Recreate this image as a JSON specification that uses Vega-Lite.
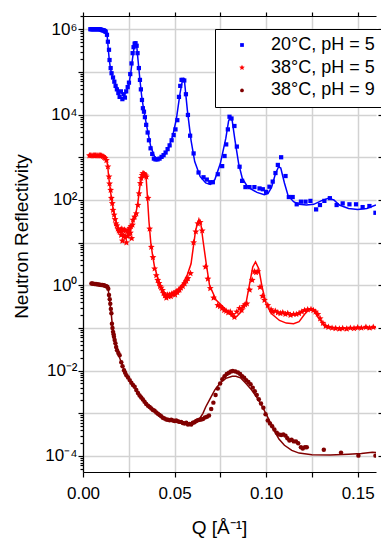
{
"$schema":"https://vega.github.io/schema/vega-lite/v6.json",
"autosize":{"type":"none"},
"width":293,"height":456,
"padding":{"left":83,"top":16,"right":5,"bottom":66},
"background":"white",
"config":{"view":{"stroke":null},"axis":{"labelFont":"Liberation Sans","titleFont":"Liberation Sans","domainColor":"black","tickColor":"black","labelColor":"black","titleColor":"black","gridColor":"#d2d2d2","gridWidth":1.5,"domainWidth":1.2,"tickWidth":1.2,"titleFontWeight":"normal"}},
"datasets":{
"pts":[
{"series":"20°C, pH = 5","q":0.0040,"r":1.0e6},{"series":"20°C, pH = 5","q":0.0046,"r":1.0e6},{"series":"20°C, pH = 5","q":0.0051,"r":1.0e6},{"series":"20°C, pH = 5","q":0.0057,"r":1.0e6},{"series":"20°C, pH = 5","q":0.0062,"r":1.0e6},{"series":"20°C, pH = 5","q":0.0068,"r":1.0e6},{"series":"20°C, pH = 5","q":0.0073,"r":1.0e6},{"series":"20°C, pH = 5","q":0.0079,"r":1.0e6},{"series":"20°C, pH = 5","q":0.0084,"r":1.0e6},{"series":"20°C, pH = 5","q":0.0090,"r":1.0e6},{"series":"20°C, pH = 5","q":0.0095,"r":9.9e5},{"series":"20°C, pH = 5","q":0.0100,"r":9.7e5},{"series":"20°C, pH = 5","q":0.0105,"r":9.5e5},{"series":"20°C, pH = 5","q":0.0110,"r":9.4e5},{"series":"20°C, pH = 5","q":0.0115,"r":9.3e5},{"series":"20°C, pH = 5","q":0.0120,"r":9.0e5},{"series":"20°C, pH = 5","q":0.0124,"r":8.7e5},{"series":"20°C, pH = 5","q":0.0131,"r":7.4e5},{"series":"20°C, pH = 5","q":0.0136,"r":5.1e5},{"series":"20°C, pH = 5","q":0.0142,"r":3.3e5},{"series":"20°C, pH = 5","q":0.0145,"r":1.9e5},{"series":"20°C, pH = 5","q":0.0151,"r":1.23e5},{"series":"20°C, pH = 5","q":0.0156,"r":9.3e4},{"series":"20°C, pH = 5","q":0.0164,"r":7.4e4},{"series":"20°C, pH = 5","q":0.0171,"r":5.9e4},{"series":"20°C, pH = 5","q":0.0178,"r":4.7e4},{"series":"20°C, pH = 5","q":0.0185,"r":3.9e4},{"series":"20°C, pH = 5","q":0.0193,"r":3.2e4},{"series":"20°C, pH = 5","q":0.0200,"r":2.6e4},{"series":"20°C, pH = 5","q":0.0207,"r":3.5e4},{"series":"20°C, pH = 5","q":0.0215,"r":2.3e4},{"series":"20°C, pH = 5","q":0.0222,"r":3.0e4},{"series":"20°C, pH = 5","q":0.0229,"r":2.5e4},{"series":"20°C, pH = 5","q":0.0236,"r":3.5e4},{"series":"20°C, pH = 5","q":0.0244,"r":4.4e4},{"series":"20°C, pH = 5","q":0.0251,"r":5.6e4},{"series":"20°C, pH = 5","q":0.0258,"r":8.9e4},{"series":"20°C, pH = 5","q":0.0265,"r":1.58e5},{"series":"20°C, pH = 5","q":0.0271,"r":2.75e5},{"series":"20°C, pH = 5","q":0.0276,"r":3.8e5},{"series":"20°C, pH = 5","q":0.0282,"r":4.6e5},{"series":"20°C, pH = 5","q":0.0287,"r":4.7e5},{"series":"20°C, pH = 5","q":0.0293,"r":4.1e5},{"series":"20°C, pH = 5","q":0.0298,"r":2.75e5},{"series":"20°C, pH = 5","q":0.0305,"r":1.23e5},{"series":"20°C, pH = 5","q":0.0311,"r":6.5e4},{"series":"20°C, pH = 5","q":0.0316,"r":3.9e4},{"series":"20°C, pH = 5","q":0.0322,"r":2.2e4},{"series":"20°C, pH = 5","q":0.0327,"r":1.41e4},{"series":"20°C, pH = 5","q":0.0333,"r":1.17e4},{"series":"20°C, pH = 5","q":0.0338,"r":8.7e3},{"series":"20°C, pH = 5","q":0.0345,"r":5.75e3},{"series":"20°C, pH = 5","q":0.0353,"r":3.8e3},{"series":"20°C, pH = 5","q":0.0360,"r":2.5e3},{"series":"20°C, pH = 5","q":0.0369,"r":1.62e3},{"series":"20°C, pH = 5","q":0.0378,"r":1.2e3},{"series":"20°C, pH = 5","q":0.0387,"r":930},{"series":"20°C, pH = 5","q":0.0396,"r":890},{"series":"20°C, pH = 5","q":0.0407,"r":890},{"series":"20°C, pH = 5","q":0.0418,"r":930},{"series":"20°C, pH = 5","q":0.0429,"r":1020},{"series":"20°C, pH = 5","q":0.0440,"r":1120},{"series":"20°C, pH = 5","q":0.0451,"r":1290},{"series":"20°C, pH = 5","q":0.0462,"r":1550},{"series":"20°C, pH = 5","q":0.0473,"r":1900},{"series":"20°C, pH = 5","q":0.0484,"r":2500},{"series":"20°C, pH = 5","q":0.0495,"r":3300},{"series":"20°C, pH = 5","q":0.0505,"r":4500},{"series":"20°C, pH = 5","q":0.0515,"r":7400},{"series":"20°C, pH = 5","q":0.0524,"r":2.6e4},{"series":"20°C, pH = 5","q":0.0531,"r":4.7e4},{"series":"20°C, pH = 5","q":0.0538,"r":6.5e4},{"series":"20°C, pH = 5","q":0.0545,"r":6.5e4},{"series":"20°C, pH = 5","q":0.0553,"r":6.3e4},{"series":"20°C, pH = 5","q":0.0562,"r":3.0e4},{"series":"20°C, pH = 5","q":0.0573,"r":9800},{"series":"20°C, pH = 5","q":0.0585,"r":3200},{"series":"20°C, pH = 5","q":0.0604,"r":1230},{"series":"20°C, pH = 5","q":0.0631,"r":440},{"series":"20°C, pH = 5","q":0.0658,"r":340},{"series":"20°C, pH = 5","q":0.0676,"r":300},{"series":"20°C, pH = 5","q":0.0695,"r":260},{"series":"20°C, pH = 5","q":0.0709,"r":260},{"series":"20°C, pH = 5","q":0.0736,"r":400},{"series":"20°C, pH = 5","q":0.0760,"r":620},{"series":"20°C, pH = 5","q":0.0773,"r":1070},{"series":"20°C, pH = 5","q":0.0782,"r":2000},{"series":"20°C, pH = 5","q":0.0791,"r":4500},{"series":"20°C, pH = 5","q":0.0800,"r":8900},{"series":"20°C, pH = 5","q":0.0811,"r":8100},{"series":"20°C, pH = 5","q":0.0827,"r":5400},{"series":"20°C, pH = 5","q":0.0840,"r":1780},{"series":"20°C, pH = 5","q":0.0855,"r":600},{"series":"20°C, pH = 5","q":0.0869,"r":280},{"series":"20°C, pH = 5","q":0.0887,"r":200},{"series":"20°C, pH = 5","q":0.0909,"r":200},{"series":"20°C, pH = 5","q":0.0936,"r":200},{"series":"20°C, pH = 5","q":0.0964,"r":186},{"series":"20°C, pH = 5","q":0.0982,"r":178},{"series":"20°C, pH = 5","q":0.1000,"r":155},{"series":"20°C, pH = 5","q":0.1018,"r":204},{"series":"20°C, pH = 5","q":0.1036,"r":269},{"series":"20°C, pH = 5","q":0.1051,"r":427},{"series":"20°C, pH = 5","q":0.1064,"r":661},{"series":"20°C, pH = 5","q":0.1082,"r":1000},{"series":"20°C, pH = 5","q":0.1106,"r":363},{"series":"20°C, pH = 5","q":0.1124,"r":117},{"series":"20°C, pH = 5","q":0.1145,"r":117},{"series":"20°C, pH = 5","q":0.1167,"r":79},{"series":"20°C, pH = 5","q":0.1190,"r":91},{"series":"20°C, pH = 5","q":0.1215,"r":91},{"series":"20°C, pH = 5","q":0.1242,"r":95},{"series":"20°C, pH = 5","q":0.1273,"r":60},{"series":"20°C, pH = 5","q":0.1294,"r":76},{"series":"20°C, pH = 5","q":0.1318,"r":95},{"series":"20°C, pH = 5","q":0.1348,"r":110},{"series":"20°C, pH = 5","q":0.1385,"r":76},{"series":"20°C, pH = 5","q":0.1418,"r":83},{"series":"20°C, pH = 5","q":0.1455,"r":79},{"series":"20°C, pH = 5","q":0.1491,"r":79},{"series":"20°C, pH = 5","q":0.1527,"r":68},{"series":"20°C, pH = 5","q":0.1564,"r":72},{"series":"20°C, pH = 5","q":0.1597,"r":50},
{"series":"38°C, pH = 5","q":0.0035,"r":1100},{"series":"38°C, pH = 5","q":0.0042,"r":1100},{"series":"38°C, pH = 5","q":0.0049,"r":1100},{"series":"38°C, pH = 5","q":0.0056,"r":1100},{"series":"38°C, pH = 5","q":0.0062,"r":1100},{"series":"38°C, pH = 5","q":0.0069,"r":1100},{"series":"38°C, pH = 5","q":0.0076,"r":1100},{"series":"38°C, pH = 5","q":0.0082,"r":1100},{"series":"38°C, pH = 5","q":0.0089,"r":1100},{"series":"38°C, pH = 5","q":0.0096,"r":1100},{"series":"38°C, pH = 5","q":0.0102,"r":1080},{"series":"38°C, pH = 5","q":0.0109,"r":1050},{"series":"38°C, pH = 5","q":0.0115,"r":1000},{"series":"38°C, pH = 5","q":0.0121,"r":950},{"series":"38°C, pH = 5","q":0.0128,"r":850},{"series":"38°C, pH = 5","q":0.0136,"r":600},{"series":"38°C, pH = 5","q":0.0142,"r":350},{"series":"38°C, pH = 5","q":0.0145,"r":240},{"series":"38°C, pH = 5","q":0.0151,"r":170},{"series":"38°C, pH = 5","q":0.0155,"r":110},{"series":"38°C, pH = 5","q":0.0160,"r":83},{"series":"38°C, pH = 5","q":0.0164,"r":58},{"series":"38°C, pH = 5","q":0.0170,"r":45},{"series":"38°C, pH = 5","q":0.0175,"r":35},{"series":"38°C, pH = 5","q":0.0180,"r":28},{"series":"38°C, pH = 5","q":0.0185,"r":25},{"series":"38°C, pH = 5","q":0.0190,"r":21},{"series":"38°C, pH = 5","q":0.0195,"r":19},{"series":"38°C, pH = 5","q":0.0200,"r":18},{"series":"38°C, pH = 5","q":0.0204,"r":20},{"series":"38°C, pH = 5","q":0.0208,"r":15},{"series":"38°C, pH = 5","q":0.0212,"r":21},{"series":"38°C, pH = 5","q":0.0215,"r":11},{"series":"38°C, pH = 5","q":0.0219,"r":19},{"series":"38°C, pH = 5","q":0.0222,"r":14},{"series":"38°C, pH = 5","q":0.0226,"r":20},{"series":"38°C, pH = 5","q":0.0230,"r":13},{"series":"38°C, pH = 5","q":0.0233,"r":19},{"series":"38°C, pH = 5","q":0.0237,"r":10},{"series":"38°C, pH = 5","q":0.0241,"r":18},{"series":"38°C, pH = 5","q":0.0244,"r":14},{"series":"38°C, pH = 5","q":0.0248,"r":20},{"series":"38°C, pH = 5","q":0.0252,"r":16},{"series":"38°C, pH = 5","q":0.0255,"r":22},{"series":"38°C, pH = 5","q":0.0259,"r":17},{"series":"38°C, pH = 5","q":0.0262,"r":24},{"series":"38°C, pH = 5","q":0.0266,"r":12.6},{"series":"38°C, pH = 5","q":0.0270,"r":26},{"series":"38°C, pH = 5","q":0.0273,"r":34},{"series":"38°C, pH = 5","q":0.0282,"r":40},{"series":"38°C, pH = 5","q":0.0291,"r":48},{"series":"38°C, pH = 5","q":0.0300,"r":76},{"series":"38°C, pH = 5","q":0.0306,"r":141},{"series":"38°C, pH = 5","q":0.0313,"r":245},{"series":"38°C, pH = 5","q":0.0318,"r":324},{"series":"38°C, pH = 5","q":0.0323,"r":380},{"series":"38°C, pH = 5","q":0.0327,"r":417},{"series":"38°C, pH = 5","q":0.0332,"r":417},{"series":"38°C, pH = 5","q":0.0336,"r":398},{"series":"38°C, pH = 5","q":0.0341,"r":372},{"series":"38°C, pH = 5","q":0.0346,"r":347},{"series":"38°C, pH = 5","q":0.0355,"r":110},{"series":"38°C, pH = 5","q":0.0364,"r":21},{"series":"38°C, pH = 5","q":0.0373,"r":7.9},{"series":"38°C, pH = 5","q":0.0382,"r":4.5},{"series":"38°C, pH = 5","q":0.0391,"r":2.45},{"series":"38°C, pH = 5","q":0.0400,"r":1.7},{"series":"38°C, pH = 5","q":0.0408,"r":1.32},{"series":"38°C, pH = 5","q":0.0415,"r":1.12},{"series":"38°C, pH = 5","q":0.0421,"r":0.95},{"series":"38°C, pH = 5","q":0.0427,"r":0.87},{"series":"38°C, pH = 5","q":0.0434,"r":0.76},{"series":"38°C, pH = 5","q":0.0440,"r":0.65},{"series":"38°C, pH = 5","q":0.0447,"r":0.575},{"series":"38°C, pH = 5","q":0.0455,"r":0.51},{"series":"38°C, pH = 5","q":0.0462,"r":0.60},{"series":"38°C, pH = 5","q":0.0467,"r":0.54},{"series":"38°C, pH = 5","q":0.0473,"r":0.60},{"series":"38°C, pH = 5","q":0.0480,"r":0.55},{"series":"38°C, pH = 5","q":0.0485,"r":0.63},{"series":"38°C, pH = 5","q":0.0491,"r":0.62},{"series":"38°C, pH = 5","q":0.0497,"r":0.66},{"series":"38°C, pH = 5","q":0.0503,"r":0.60},{"series":"38°C, pH = 5","q":0.0509,"r":0.71},{"series":"38°C, pH = 5","q":0.0515,"r":0.68},{"series":"38°C, pH = 5","q":0.0521,"r":0.76},{"series":"38°C, pH = 5","q":0.0527,"r":0.78},{"series":"38°C, pH = 5","q":0.0535,"r":0.87},{"series":"38°C, pH = 5","q":0.0545,"r":0.95},{"series":"38°C, pH = 5","q":0.0555,"r":1.1},{"series":"38°C, pH = 5","q":0.0564,"r":1.26},{"series":"38°C, pH = 5","q":0.0573,"r":1.45},{"series":"38°C, pH = 5","q":0.0587,"r":1.9},{"series":"38°C, pH = 5","q":0.0604,"r":10},{"series":"38°C, pH = 5","q":0.0616,"r":18},{"series":"38°C, pH = 5","q":0.0627,"r":28},{"series":"38°C, pH = 5","q":0.0640,"r":30},{"series":"38°C, pH = 5","q":0.0651,"r":19},{"series":"38°C, pH = 5","q":0.0669,"r":2.7},{"series":"38°C, pH = 5","q":0.0682,"r":1.41},{"series":"38°C, pH = 5","q":0.0695,"r":0.85},{"series":"38°C, pH = 5","q":0.0713,"r":0.51},{"series":"38°C, pH = 5","q":0.0736,"r":0.34},{"series":"38°C, pH = 5","q":0.0748,"r":0.32},{"series":"38°C, pH = 5","q":0.0760,"r":0.29},{"series":"38°C, pH = 5","q":0.0771,"r":0.26},{"series":"38°C, pH = 5","q":0.0782,"r":0.25},{"series":"38°C, pH = 5","q":0.0793,"r":0.23},{"series":"38°C, pH = 5","q":0.0804,"r":0.24},{"series":"38°C, pH = 5","q":0.0815,"r":0.21},{"series":"38°C, pH = 5","q":0.0827,"r":0.18},{"series":"38°C, pH = 5","q":0.0840,"r":0.24},{"series":"38°C, pH = 5","q":0.0855,"r":0.29},{"series":"38°C, pH = 5","q":0.0866,"r":0.26},{"series":"38°C, pH = 5","q":0.0876,"r":0.32},{"series":"38°C, pH = 5","q":0.0885,"r":0.355},{"series":"38°C, pH = 5","q":0.0895,"r":0.37},{"series":"38°C, pH = 5","q":0.0910,"r":0.78},{"series":"38°C, pH = 5","q":0.0924,"r":1.32},{"series":"38°C, pH = 5","q":0.0936,"r":2.1},{"series":"38°C, pH = 5","q":0.0945,"r":2.0},{"series":"38°C, pH = 5","q":0.0955,"r":2.1},{"series":"38°C, pH = 5","q":0.0967,"r":0.91},{"series":"38°C, pH = 5","q":0.0980,"r":0.56},{"series":"38°C, pH = 5","q":0.0991,"r":0.45},{"series":"38°C, pH = 5","q":0.1009,"r":0.34},{"series":"38°C, pH = 5","q":0.1027,"r":0.27},{"series":"38°C, pH = 5","q":0.1036,"r":0.24},{"series":"38°C, pH = 5","q":0.1050,"r":0.25},{"series":"38°C, pH = 5","q":0.1064,"r":0.23},{"series":"38°C, pH = 5","q":0.1078,"r":0.22},{"series":"38°C, pH = 5","q":0.1091,"r":0.23},{"series":"38°C, pH = 5","q":0.1105,"r":0.21},{"series":"38°C, pH = 5","q":0.1118,"r":0.22},{"series":"38°C, pH = 5","q":0.1133,"r":0.20},{"series":"38°C, pH = 5","q":0.1150,"r":0.21},{"series":"38°C, pH = 5","q":0.1165,"r":0.21},{"series":"38°C, pH = 5","q":0.1180,"r":0.22},{"series":"38°C, pH = 5","q":0.1195,"r":0.24},{"series":"38°C, pH = 5","q":0.1210,"r":0.26},{"series":"38°C, pH = 5","q":0.1227,"r":0.27},{"series":"38°C, pH = 5","q":0.1245,"r":0.275},{"series":"38°C, pH = 5","q":0.1258,"r":0.26},{"series":"38°C, pH = 5","q":0.1270,"r":0.24},{"series":"38°C, pH = 5","q":0.1282,"r":0.21},{"series":"38°C, pH = 5","q":0.1295,"r":0.166},{"series":"38°C, pH = 5","q":0.1310,"r":0.13},{"series":"38°C, pH = 5","q":0.1325,"r":0.11},{"series":"38°C, pH = 5","q":0.1340,"r":0.105},{"series":"38°C, pH = 5","q":0.1360,"r":0.10},{"series":"38°C, pH = 5","q":0.1380,"r":0.098},{"series":"38°C, pH = 5","q":0.1400,"r":0.095},{"series":"38°C, pH = 5","q":0.1418,"r":0.098},{"series":"38°C, pH = 5","q":0.1440,"r":0.095},{"series":"38°C, pH = 5","q":0.1460,"r":0.10},{"series":"38°C, pH = 5","q":0.1480,"r":0.098},{"series":"38°C, pH = 5","q":0.1500,"r":0.102},{"series":"38°C, pH = 5","q":0.1520,"r":0.10},{"series":"38°C, pH = 5","q":0.1545,"r":0.105},{"series":"38°C, pH = 5","q":0.1565,"r":0.10},{"series":"38°C, pH = 5","q":0.1585,"r":0.105},
{"series":"38°C, pH = 9","q":0.0046,"r":1.10},{"series":"38°C, pH = 9","q":0.0052,"r":1.10},{"series":"38°C, pH = 9","q":0.0058,"r":1.08},{"series":"38°C, pH = 9","q":0.0064,"r":1.07},{"series":"38°C, pH = 9","q":0.0071,"r":1.07},{"series":"38°C, pH = 9","q":0.0078,"r":1.05},{"series":"38°C, pH = 9","q":0.0085,"r":1.05},{"series":"38°C, pH = 9","q":0.0092,"r":1.03},{"series":"38°C, pH = 9","q":0.0099,"r":1.02},{"series":"38°C, pH = 9","q":0.0106,"r":1.01},{"series":"38°C, pH = 9","q":0.0113,"r":1.0},{"series":"38°C, pH = 9","q":0.0120,"r":0.98},{"series":"38°C, pH = 9","q":0.0127,"r":0.955},{"series":"38°C, pH = 9","q":0.0133,"r":0.93},{"series":"38°C, pH = 9","q":0.0138,"r":0.83},{"series":"38°C, pH = 9","q":0.0142,"r":0.59},{"series":"38°C, pH = 9","q":0.0146,"r":0.47},{"series":"38°C, pH = 9","q":0.0149,"r":0.37},{"series":"38°C, pH = 9","q":0.0152,"r":0.28},{"series":"38°C, pH = 9","q":0.0155,"r":0.22},{"series":"38°C, pH = 9","q":0.0158,"r":0.126},{"series":"38°C, pH = 9","q":0.0161,"r":0.10},{"series":"38°C, pH = 9","q":0.0164,"r":0.081},{"series":"38°C, pH = 9","q":0.0167,"r":0.071},{"series":"38°C, pH = 9","q":0.0169,"r":0.062},{"series":"38°C, pH = 9","q":0.0173,"r":0.052},{"series":"38°C, pH = 9","q":0.0177,"r":0.044},{"series":"38°C, pH = 9","q":0.0181,"r":0.036},{"series":"38°C, pH = 9","q":0.0186,"r":0.030},{"series":"38°C, pH = 9","q":0.0193,"r":0.026},{"series":"38°C, pH = 9","q":0.0200,"r":0.023},{"series":"38°C, pH = 9","q":0.0209,"r":0.0158},{"series":"38°C, pH = 9","q":0.0216,"r":0.0126},{"series":"38°C, pH = 9","q":0.0224,"r":0.0102},{"series":"38°C, pH = 9","q":0.0230,"r":0.0089},{"series":"38°C, pH = 9","q":0.0237,"r":0.0078},{"series":"38°C, pH = 9","q":0.0246,"r":0.0069},{"series":"38°C, pH = 9","q":0.0255,"r":0.0060},{"series":"38°C, pH = 9","q":0.0264,"r":0.0052},{"series":"38°C, pH = 9","q":0.0273,"r":0.0046},{"series":"38°C, pH = 9","q":0.0282,"r":0.0042},{"series":"38°C, pH = 9","q":0.0291,"r":0.0035},{"series":"38°C, pH = 9","q":0.0300,"r":0.0030},{"series":"38°C, pH = 9","q":0.0309,"r":0.0026},{"series":"38°C, pH = 9","q":0.0318,"r":0.00234},{"series":"38°C, pH = 9","q":0.0327,"r":0.0021},{"series":"38°C, pH = 9","q":0.0336,"r":0.00186},{"series":"38°C, pH = 9","q":0.0345,"r":0.00166},{"series":"38°C, pH = 9","q":0.0355,"r":0.00151},{"series":"38°C, pH = 9","q":0.0364,"r":0.00141},{"series":"38°C, pH = 9","q":0.0373,"r":0.00129},{"series":"38°C, pH = 9","q":0.0382,"r":0.0012},{"series":"38°C, pH = 9","q":0.0391,"r":0.00115},{"series":"38°C, pH = 9","q":0.0400,"r":0.00105},{"series":"38°C, pH = 9","q":0.0409,"r":0.00098},{"series":"38°C, pH = 9","q":0.0418,"r":0.00091},{"series":"38°C, pH = 9","q":0.0427,"r":0.00085},{"series":"38°C, pH = 9","q":0.0436,"r":0.00079},{"series":"38°C, pH = 9","q":0.0445,"r":0.00076},{"series":"38°C, pH = 9","q":0.0455,"r":0.00072},{"series":"38°C, pH = 9","q":0.0464,"r":0.00071},{"series":"38°C, pH = 9","q":0.0473,"r":0.00069},{"series":"38°C, pH = 9","q":0.0482,"r":0.00071},{"series":"38°C, pH = 9","q":0.0491,"r":0.00068},{"series":"38°C, pH = 9","q":0.0500,"r":0.00066},{"series":"38°C, pH = 9","q":0.0509,"r":0.00068},{"series":"38°C, pH = 9","q":0.0518,"r":0.00065},{"series":"38°C, pH = 9","q":0.0527,"r":0.00063},{"series":"38°C, pH = 9","q":0.0536,"r":0.00063},{"series":"38°C, pH = 9","q":0.0545,"r":0.00059},{"series":"38°C, pH = 9","q":0.0555,"r":0.00058},{"series":"38°C, pH = 9","q":0.0564,"r":0.0006},{"series":"38°C, pH = 9","q":0.0573,"r":0.00055},{"series":"38°C, pH = 9","q":0.0582,"r":0.00056},{"series":"38°C, pH = 9","q":0.0591,"r":0.00055},{"series":"38°C, pH = 9","q":0.0600,"r":0.0006},{"series":"38°C, pH = 9","q":0.0609,"r":0.00062},{"series":"38°C, pH = 9","q":0.0618,"r":0.00066},{"series":"38°C, pH = 9","q":0.0627,"r":0.00069},{"series":"38°C, pH = 9","q":0.0636,"r":0.00071},{"series":"38°C, pH = 9","q":0.0645,"r":0.00072},{"series":"38°C, pH = 9","q":0.0655,"r":0.00074},{"series":"38°C, pH = 9","q":0.0666,"r":0.0008},{"series":"38°C, pH = 9","q":0.0677,"r":0.00083},{"series":"38°C, pH = 9","q":0.0688,"r":0.00089},{"series":"38°C, pH = 9","q":0.0700,"r":0.00126},{"series":"38°C, pH = 9","q":0.0712,"r":0.00178},{"series":"38°C, pH = 9","q":0.0724,"r":0.0027},{"series":"38°C, pH = 9","q":0.0736,"r":0.0038},{"series":"38°C, pH = 9","q":0.0749,"r":0.0050},{"series":"38°C, pH = 9","q":0.0761,"r":0.0063},{"series":"38°C, pH = 9","q":0.0773,"r":0.0074},{"series":"38°C, pH = 9","q":0.0785,"r":0.0083},{"series":"38°C, pH = 9","q":0.0797,"r":0.0089},{"series":"38°C, pH = 9","q":0.0808,"r":0.0095},{"series":"38°C, pH = 9","q":0.0818,"r":0.0098},{"series":"38°C, pH = 9","q":0.0832,"r":0.0095},{"series":"38°C, pH = 9","q":0.0846,"r":0.0091},{"series":"38°C, pH = 9","q":0.0858,"r":0.0083},{"series":"38°C, pH = 9","q":0.0869,"r":0.0074},{"series":"38°C, pH = 9","q":0.0880,"r":0.0068},{"series":"38°C, pH = 9","q":0.0891,"r":0.0060},{"series":"38°C, pH = 9","q":0.0903,"r":0.0054},{"series":"38°C, pH = 9","q":0.0915,"r":0.0048},{"series":"38°C, pH = 9","q":0.0927,"r":0.0040},{"series":"38°C, pH = 9","q":0.0938,"r":0.0033},{"series":"38°C, pH = 9","q":0.0949,"r":0.0027},{"series":"38°C, pH = 9","q":0.0960,"r":0.00214},{"series":"38°C, pH = 9","q":0.0972,"r":0.0017},{"series":"38°C, pH = 9","q":0.0985,"r":0.00135},{"series":"38°C, pH = 9","q":0.0997,"r":0.00095},{"series":"38°C, pH = 9","q":0.1009,"r":0.00068},{"series":"38°C, pH = 9","q":0.1021,"r":0.00058},{"series":"38°C, pH = 9","q":0.1033,"r":0.0005},{"series":"38°C, pH = 9","q":0.1045,"r":0.00042},{"series":"38°C, pH = 9","q":0.1058,"r":0.00035},{"series":"38°C, pH = 9","q":0.1070,"r":0.00032},{"series":"38°C, pH = 9","q":0.1082,"r":0.00031},{"series":"38°C, pH = 9","q":0.1094,"r":0.00032},{"series":"38°C, pH = 9","q":0.1106,"r":0.0003},{"series":"38°C, pH = 9","q":0.1116,"r":0.00026},{"series":"38°C, pH = 9","q":0.1127,"r":0.00023},{"series":"38°C, pH = 9","q":0.1139,"r":0.00024},{"series":"38°C, pH = 9","q":0.1151,"r":0.00022},{"series":"38°C, pH = 9","q":0.1163,"r":0.00022},{"series":"38°C, pH = 9","q":0.1175,"r":0.0002},{"series":"38°C, pH = 9","q":0.1190,"r":0.00016},{"series":"38°C, pH = 9","q":0.1200,"r":0.00015},{"series":"38°C, pH = 9","q":0.1212,"r":0.00016},{"series":"38°C, pH = 9","q":0.1222,"r":0.00016},{"series":"38°C, pH = 9","q":0.1315,"r":0.00014},{"series":"38°C, pH = 9","q":0.1409,"r":0.00012},{"series":"38°C, pH = 9","q":0.1504,"r":0.000102},{"series":"38°C, pH = 9","q":0.1597,"r":0.000102}
],
"fit":[
{"series":"20°C, pH = 5","q":0.004,"r":1.0e6},{"series":"20°C, pH = 5","q":0.012,"r":1.0e6},{"series":"20°C, pH = 5","q":0.0128,"r":8.9e5},{"series":"20°C, pH = 5","q":0.0133,"r":6.3e5},{"series":"20°C, pH = 5","q":0.0138,"r":3.5e5},{"series":"20°C, pH = 5","q":0.0143,"r":2.0e5},{"series":"20°C, pH = 5","q":0.015,"r":1.2e5},{"series":"20°C, pH = 5","q":0.016,"r":7.9e4},{"series":"20°C, pH = 5","q":0.018,"r":4.8e4},{"series":"20°C, pH = 5","q":0.020,"r":3.4e4},{"series":"20°C, pH = 5","q":0.022,"r":3.0e4},{"series":"20°C, pH = 5","q":0.0235,"r":3.2e4},{"series":"20°C, pH = 5","q":0.025,"r":5.0e4},{"series":"20°C, pH = 5","q":0.026,"r":8.9e4},{"series":"20°C, pH = 5","q":0.027,"r":2.0e5},{"series":"20°C, pH = 5","q":0.028,"r":4.0e5},{"series":"20°C, pH = 5","q":0.0287,"r":4.8e5},{"series":"20°C, pH = 5","q":0.0293,"r":4.2e5},{"series":"20°C, pH = 5","q":0.030,"r":2.0e5},{"series":"20°C, pH = 5","q":0.031,"r":7.1e4},{"series":"20°C, pH = 5","q":0.032,"r":2.8e4},{"series":"20°C, pH = 5","q":0.033,"r":1.41e4},{"series":"20°C, pH = 5","q":0.035,"r":4800},{"series":"20°C, pH = 5","q":0.037,"r":1780},{"series":"20°C, pH = 5","q":0.039,"r":1050},{"series":"20°C, pH = 5","q":0.041,"r":890},{"series":"20°C, pH = 5","q":0.043,"r":950},{"series":"20°C, pH = 5","q":0.045,"r":1200},{"series":"20°C, pH = 5","q":0.047,"r":1780},{"series":"20°C, pH = 5","q":0.049,"r":3200},{"series":"20°C, pH = 5","q":0.051,"r":7900},{"series":"20°C, pH = 5","q":0.053,"r":3.2e4},{"series":"20°C, pH = 5","q":0.0543,"r":6.3e4},{"series":"20°C, pH = 5","q":0.0548,"r":6.8e4},{"series":"20°C, pH = 5","q":0.0555,"r":5.6e4},{"series":"20°C, pH = 5","q":0.057,"r":1.26e4},{"series":"20°C, pH = 5","q":0.059,"r":2500},{"series":"20°C, pH = 5","q":0.061,"r":790},{"series":"20°C, pH = 5","q":0.064,"r":350},{"series":"20°C, pH = 5","q":0.067,"r":250},{"series":"20°C, pH = 5","q":0.0695,"r":230},{"series":"20°C, pH = 5","q":0.072,"r":300},{"series":"20°C, pH = 5","q":0.075,"r":710},{"series":"20°C, pH = 5","q":0.078,"r":2800},{"series":"20°C, pH = 5","q":0.0795,"r":7100},{"series":"20°C, pH = 5","q":0.0805,"r":8900},{"series":"20°C, pH = 5","q":0.0815,"r":7100},{"series":"20°C, pH = 5","q":0.083,"r":2500},{"series":"20°C, pH = 5","q":0.085,"r":710},{"series":"20°C, pH = 5","q":0.087,"r":320},{"series":"20°C, pH = 5","q":0.090,"r":200},{"series":"20°C, pH = 5","q":0.095,"r":150},{"series":"20°C, pH = 5","q":0.099,"r":132},{"series":"20°C, pH = 5","q":0.101,"r":141},{"series":"20°C, pH = 5","q":0.103,"r":200},{"series":"20°C, pH = 5","q":0.105,"r":400},{"series":"20°C, pH = 5","q":0.1068,"r":600},{"series":"20°C, pH = 5","q":0.108,"r":560},{"series":"20°C, pH = 5","q":0.110,"r":250},{"series":"20°C, pH = 5","q":0.112,"r":126},{"series":"20°C, pH = 5","q":0.115,"r":91},{"series":"20°C, pH = 5","q":0.118,"r":79},{"series":"20°C, pH = 5","q":0.122,"r":76},{"series":"20°C, pH = 5","q":0.126,"r":79},{"series":"20°C, pH = 5","q":0.130,"r":95},{"series":"20°C, pH = 5","q":0.134,"r":110},{"series":"20°C, pH = 5","q":0.137,"r":100},{"series":"20°C, pH = 5","q":0.140,"r":76},{"series":"20°C, pH = 5","q":0.145,"r":63},{"series":"20°C, pH = 5","q":0.150,"r":60},{"series":"20°C, pH = 5","q":0.155,"r":63},{"series":"20°C, pH = 5","q":0.160,"r":76},
{"series":"38°C, pH = 5","q":0.004,"r":1100},{"series":"38°C, pH = 5","q":0.012,"r":1070},{"series":"38°C, pH = 5","q":0.0128,"r":890},{"series":"38°C, pH = 5","q":0.0135,"r":630},{"series":"38°C, pH = 5","q":0.014,"r":350},{"series":"38°C, pH = 5","q":0.015,"r":160},{"series":"38°C, pH = 5","q":0.016,"r":79},{"series":"38°C, pH = 5","q":0.017,"r":48},{"series":"38°C, pH = 5","q":0.018,"r":32},{"series":"38°C, pH = 5","q":0.019,"r":24},{"series":"38°C, pH = 5","q":0.020,"r":20},{"series":"38°C, pH = 5","q":0.022,"r":16},{"series":"38°C, pH = 5","q":0.024,"r":14.8},{"series":"38°C, pH = 5","q":0.025,"r":16},{"series":"38°C, pH = 5","q":0.026,"r":20},{"series":"38°C, pH = 5","q":0.027,"r":28},{"series":"38°C, pH = 5","q":0.028,"r":38},{"series":"38°C, pH = 5","q":0.029,"r":52},{"series":"38°C, pH = 5","q":0.030,"r":89},{"series":"38°C, pH = 5","q":0.031,"r":200},{"series":"38°C, pH = 5","q":0.032,"r":331},{"series":"38°C, pH = 5","q":0.033,"r":427},{"series":"38°C, pH = 5","q":0.034,"r":398},{"series":"38°C, pH = 5","q":0.0345,"r":316},{"series":"38°C, pH = 5","q":0.035,"r":158},{"series":"38°C, pH = 5","q":0.036,"r":32},{"series":"38°C, pH = 5","q":0.037,"r":10},{"series":"38°C, pH = 5","q":0.038,"r":5.0},{"series":"38°C, pH = 5","q":0.039,"r":2.8},{"series":"38°C, pH = 5","q":0.041,"r":1.41},{"series":"38°C, pH = 5","q":0.043,"r":0.85},{"series":"38°C, pH = 5","q":0.045,"r":0.63},{"series":"38°C, pH = 5","q":0.047,"r":0.59},{"series":"38°C, pH = 5","q":0.049,"r":0.63},{"series":"38°C, pH = 5","q":0.051,"r":0.74},{"series":"38°C, pH = 5","q":0.053,"r":0.89},{"series":"38°C, pH = 5","q":0.055,"r":1.2},{"series":"38°C, pH = 5","q":0.057,"r":1.78},{"series":"38°C, pH = 5","q":0.059,"r":3.2},{"series":"38°C, pH = 5","q":0.060,"r":6.6},{"series":"38°C, pH = 5","q":0.0615,"r":19.5},{"series":"38°C, pH = 5","q":0.0633,"r":35.5},{"series":"38°C, pH = 5","q":0.0645,"r":25},{"series":"38°C, pH = 5","q":0.0655,"r":11.5},{"series":"38°C, pH = 5","q":0.0673,"r":3.2},{"series":"38°C, pH = 5","q":0.0691,"r":1.0},{"series":"38°C, pH = 5","q":0.0727,"r":0.45},{"series":"38°C, pH = 5","q":0.0773,"r":0.29},{"series":"38°C, pH = 5","q":0.0818,"r":0.18},{"series":"38°C, pH = 5","q":0.0836,"r":0.18},{"series":"38°C, pH = 5","q":0.0864,"r":0.24},{"series":"38°C, pH = 5","q":0.0891,"r":0.40},{"series":"38°C, pH = 5","q":0.091,"r":1.1},{"series":"38°C, pH = 5","q":0.0927,"r":2.7},{"series":"38°C, pH = 5","q":0.0942,"r":3.55},{"series":"38°C, pH = 5","q":0.096,"r":2.45},{"series":"38°C, pH = 5","q":0.0978,"r":0.91},{"series":"38°C, pH = 5","q":0.100,"r":0.37},{"series":"38°C, pH = 5","q":0.1027,"r":0.22},{"series":"38°C, pH = 5","q":0.1073,"r":0.15},{"series":"38°C, pH = 5","q":0.111,"r":0.13},{"series":"38°C, pH = 5","q":0.115,"r":0.126},{"series":"38°C, pH = 5","q":0.118,"r":0.14},{"series":"38°C, pH = 5","q":0.121,"r":0.21},{"series":"38°C, pH = 5","q":0.1236,"r":0.275},{"series":"38°C, pH = 5","q":0.126,"r":0.25},{"series":"38°C, pH = 5","q":0.128,"r":0.19},{"series":"38°C, pH = 5","q":0.131,"r":0.126},{"series":"38°C, pH = 5","q":0.134,"r":0.105},{"series":"38°C, pH = 5","q":0.140,"r":0.098},{"series":"38°C, pH = 5","q":0.150,"r":0.098},{"series":"38°C, pH = 5","q":0.160,"r":0.102},
{"series":"38°C, pH = 9","q":0.004,"r":1.12},{"series":"38°C, pH = 9","q":0.008,"r":1.10},{"series":"38°C, pH = 9","q":0.012,"r":1.05},{"series":"38°C, pH = 9","q":0.0133,"r":0.955},{"series":"38°C, pH = 9","q":0.0138,"r":0.79},{"series":"38°C, pH = 9","q":0.0142,"r":0.56},{"series":"38°C, pH = 9","q":0.0148,"r":0.355},{"series":"38°C, pH = 9","q":0.0155,"r":0.2},{"series":"38°C, pH = 9","q":0.016,"r":0.12},{"series":"38°C, pH = 9","q":0.0165,"r":0.079},{"series":"38°C, pH = 9","q":0.017,"r":0.06},{"series":"38°C, pH = 9","q":0.018,"r":0.038},{"series":"38°C, pH = 9","q":0.019,"r":0.026},{"series":"38°C, pH = 9","q":0.020,"r":0.02},{"series":"38°C, pH = 9","q":0.022,"r":0.0117},{"series":"38°C, pH = 9","q":0.024,"r":0.0079},{"series":"38°C, pH = 9","q":0.026,"r":0.0056},{"series":"38°C, pH = 9","q":0.028,"r":0.0042},{"series":"38°C, pH = 9","q":0.030,"r":0.0032},{"series":"38°C, pH = 9","q":0.033,"r":0.00214},{"series":"38°C, pH = 9","q":0.036,"r":0.00151},{"series":"38°C, pH = 9","q":0.040,"r":0.00105},{"series":"38°C, pH = 9","q":0.044,"r":0.00079},{"series":"38°C, pH = 9","q":0.048,"r":0.00068},{"series":"38°C, pH = 9","q":0.052,"r":0.00062},{"series":"38°C, pH = 9","q":0.056,"r":0.00058},{"series":"38°C, pH = 9","q":0.059,"r":0.00056},{"series":"38°C, pH = 9","q":0.062,"r":0.00063},{"series":"38°C, pH = 9","q":0.064,"r":0.00079},{"series":"38°C, pH = 9","q":0.0655,"r":0.001},{"series":"38°C, pH = 9","q":0.067,"r":0.00141},{"series":"38°C, pH = 9","q":0.069,"r":0.00204},{"series":"38°C, pH = 9","q":0.072,"r":0.00355},{"series":"38°C, pH = 9","q":0.075,"r":0.0052},{"series":"38°C, pH = 9","q":0.078,"r":0.0066},{"series":"38°C, pH = 9","q":0.0815,"r":0.0074},{"series":"38°C, pH = 9","q":0.0835,"r":0.0074},{"series":"38°C, pH = 9","q":0.086,"r":0.0068},{"series":"38°C, pH = 9","q":0.089,"r":0.005},{"series":"38°C, pH = 9","q":0.092,"r":0.00355},{"series":"38°C, pH = 9","q":0.095,"r":0.00234},{"series":"38°C, pH = 9","q":0.098,"r":0.00141},{"series":"38°C, pH = 9","q":0.101,"r":0.00079},{"series":"38°C, pH = 9","q":0.104,"r":0.00042},{"series":"38°C, pH = 9","q":0.107,"r":0.00025},{"series":"38°C, pH = 9","q":0.110,"r":0.000178},{"series":"38°C, pH = 9","q":0.114,"r":0.000135},{"series":"38°C, pH = 9","q":0.118,"r":0.000117},{"series":"38°C, pH = 9","q":0.125,"r":0.000107},{"series":"38°C, pH = 9","q":0.135,"r":0.000105},{"series":"38°C, pH = 9","q":0.145,"r":0.00011},{"series":"38°C, pH = 9","q":0.152,"r":0.000115},{"series":"38°C, pH = 9","q":0.158,"r":0.000123},{"series":"38°C, pH = 9","q":0.160,"r":0.00012}
]},
"layer":[
{"data":{"name":"fit"},
 "mark":{"type":"line","strokeWidth":1.5,"clip":true},
 "encoding":{
  "x":{"field":"q","type":"quantitative","scale":{"domain":[0,0.16],"nice":false,"zero":false},
   "axis":{"orient":"bottom","values":[0,0.025,0.05,0.075,0.1,0.125,0.15],"grid":true,"tickSize":5,"labelFontSize":17,"labelPadding":8,
    "labelExpr":"(round(datum.value*1000) % 50 == 0) ? format(datum.value, '.2f') : ''","labelOverlap":false,"labelFlush":false,
    "title":"Q [Å⁻¹]","titleFontSize":19,"titleX":136,"titleY":61,"titleBaseline":"alphabetic","titleAlign":"center"}},
  "y":{"field":"r","type":"quantitative","scale":{"type":"log","domain":[4.217e-5,2.042e6],"nice":false},
   "axis":{"orient":"left","values":[5e-5,6e-5,7e-5,8e-5,9e-5,1e-4,2e-4,3e-4,4e-4,5e-4,6e-4,7e-4,8e-4,9e-4,1e-3,2e-3,3e-3,4e-3,5e-3,6e-3,7e-3,8e-3,9e-3,0.01,0.02,0.03,0.04,0.05,0.06,0.07,0.08,0.09,0.1,0.2,0.3,0.4,0.5,0.6,0.7,0.8,0.9,1,2,3,4,5,6,7,8,9,10,20,30,40,50,60,70,80,90,100,200,300,400,500,600,700,800,900,1000,2000,3000,4000,5000,6000,7000,8000,9000,1e4,2e4,3e4,4e4,5e4,6e4,7e4,8e4,9e4,1e5,2e5,3e5,4e5,5e5,6e5,7e5,8e5,9e5,1e6,2e6],
    "grid":true,
    "gridOpacity":{"condition":{"test":"abs(log(datum.value)/LN10 - round(log(datum.value)/LN10)) < 0.001","value":1},"value":0},
    "tickSize":{"condition":{"test":"abs(log(datum.value)/LN10 - round(log(datum.value)/LN10)) < 0.001","value":5},"value":3},
    "labelFontSize":17,"labelPadding":1,"labelOverlap":false,"labelFlush":false,"labelBound":false,
    "labelExpr":"(abs(log(datum.value)/LN10 - round(log(datum.value)/LN10)) < 0.001 && round(log(datum.value)/LN10) % 2 == 0) ? '10' + replace(replace(replace(replace(replace('' + round(log(datum.value)/LN10), '-', '⁻'), '0', '⁰'), '2', '²'), '4', '⁴'), '6', '⁶') : ''",
    "title":"Neutron Reflectivity","titleFontSize":19,"titleX":-62,"titleY":220,"titleAngle":-90,"titleBaseline":"middle","titleAlign":"center"}},
  "detail":{"field":"series","type":"nominal"},
  "stroke":{"condition":[{"test":"datum.series == '20°C, pH = 5'","value":"#0000ff"},{"test":"datum.series == '38°C, pH = 5'","value":"#ff0000"}],"value":"#800000"}
 }},
{"data":{"name":"pts"},
 "transform":[{"filter":"datum.series == '20°C, pH = 5'"}],
 "mark":{"type":"point","filled":true,"opacity":1,"clip":true,"size":18},
 "encoding":{
  "x":{"field":"q","type":"quantitative","axis":{"orient":"top","values":[0,0.025,0.05,0.075,0.1,0.125,0.15],"labels":false,"grid":false,"tickSize":4,"title":null}},
  "y":{"field":"r","type":"quantitative","axis":{"orient":"right","values":[1e-4,1e-3,0.01,0.1,1,10,100,1000,1e4,1e5,1e6],"labels":false,"grid":false,"domain":false,"offset":2,"tickSize":4,"title":null}},
  "color":{"field":"series","type":"nominal","scale":{"domain":["20°C, pH = 5","38°C, pH = 5","38°C, pH = 9"],"range":["#0000ff","#ff0000","#800000"]},
   "legend":{"orient":"none","legendX":132,"legendY":13,"title":null,"strokeColor":"black","fillColor":"white","padding":7,"symbolOffset":11,"labelFontSize":18,"labelFont":"Liberation Sans","labelColor":"black","labelOffset":20,"rowPadding":4.7,"symbolSize":14,"symbolStrokeWidth":0}},
  "shape":{"field":"series","type":"nominal","scale":{"domain":["20°C, pH = 5","38°C, pH = 5","38°C, pH = 9"],"range":["square","M0,-1.6L0.423,-0.582L1.522,-0.494L0.685,0.222L0.941,1.294L0,0.72L-0.941,1.294L-0.685,0.222L-1.522,-0.494L-0.423,-0.582Z","circle"]},
   "legend":{"orient":"none","legendX":132,"legendY":13,"title":null,"strokeColor":"black","fillColor":"white","padding":7,"symbolOffset":11,"labelFontSize":18,"labelFont":"Liberation Sans","labelColor":"black","labelOffset":20,"rowPadding":4.7,"symbolSize":14,"symbolStrokeWidth":0}}
 }},
{"data":{"name":"pts"},
 "transform":[{"filter":"datum.series == '38°C, pH = 5'"}],
 "mark":{"type":"point","filled":true,"opacity":1,"clip":true,"size":20},
 "encoding":{
  "x":{"field":"q","type":"quantitative","axis":null},
  "y":{"field":"r","type":"quantitative","axis":null},
  "color":{"field":"series","type":"nominal"},
  "shape":{"field":"series","type":"nominal"}
 }},
{"data":{"name":"pts"},
 "transform":[{"filter":"datum.series == '38°C, pH = 9'"}],
 "mark":{"type":"point","filled":true,"opacity":1,"clip":true,"size":20},
 "encoding":{
  "x":{"field":"q","type":"quantitative","axis":null},
  "y":{"field":"r","type":"quantitative","axis":null},
  "color":{"field":"series","type":"nominal"},
  "shape":{"field":"series","type":"nominal"}
 }}
],
"resolve":{"axis":{"x":"independent","y":"independent"}}
}
